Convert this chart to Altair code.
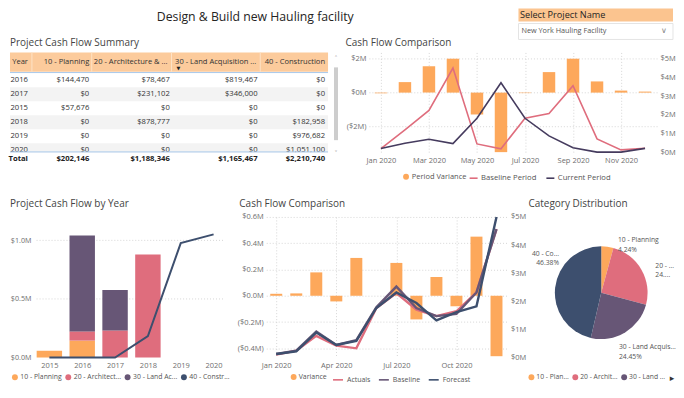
import json
import altair as alt
import pandas as pd

FONT = "Open Sans"
ORANGE = "#FDA85B"
PINK = "#DF6D7D"
PURPLE = "#675676"
NAVY = "#3D4F6E"
DARK = "#453B5E"
PEACH = "#FCCB9C"
PEACH2 = "#FBC48F"
GRID = "#D6D6D6"
TXT = "#333333"
AXT = "#6E6E6E"
TITLE = "#444444"

# ---------------- data ----------------
years = ["2016", "2017", "2015", "2018", "2019", "2020"]
planning = [144470, 0, 57676, 0, 0, 0]
architecture = [78467, 231102, 0, 878777, 0, 0]
land = [819467, 346000, 0, 0, 0, 0]
construction = [0, 0, 0, 182958, 976682, 1051100]
categories = ["10 - Planning", "20 - Architecture & Engineering",
              "30 - Land Acquisition & Permits", "40 - Construction"]
cat_colors = [ORANGE, PINK, PURPLE, NAVY]
table_headers = ["Year", "10 - Planning", "20 - Architecture & ...",
                 "30 - Land Acquisition ...", "40 - Construction"]
bl_legend_labels = ["10 - Planning", "20 - Architect...", "30 - Land Ac...", "40 - Constr..."]
pie_legend_labels = ["10 - Plan...", "20 - Archit...", "30 - Land ..."]
pie_label_names = ["10 - Planning", "20 - ...", "30 - Land Acquis...", "40 - Co..."]

months = ["Jan 2020", "Feb 2020", "Mar 2020", "Apr 2020", "May 2020", "Jun 2020",
          "Jul 2020", "Aug 2020", "Sep 2020", "Oct 2020", "Nov 2020", "Dec 2020"]
# top-right comparison ($M)
period_variance = [-0.04, 0.62, 1.56, 2.0, -1.29, -3.51, -0.03, 1.21, 2.0, 0.66, 0.12, 0.06]
baseline_period = [0.19, 1.19, 2.23, 4.50, 0.44, 0.18, 1.81, 2.07, 3.55, 0.71, 0.12, 0.21]
current_period = [0.19, 0.48, 0.69, 0.46, 1.81, 3.71, 1.81, 0.87, 0.23, 0.0, 0.0, 0.20]
# bottom comparison ($M)
variance = [0.015, 0.018, 0.178, -0.043, 0.288, 0.0, 0.25, -0.18, 0.143, -0.08, 0.45, -0.46]
actuals = [-0.448, -0.418, -0.305, -0.38, -0.40, -0.093, 0.02, -0.105, -0.155, -0.118, 0.025, 0.508]
baseline = [-0.443, -0.418, -0.273, -0.375, -0.338, -0.088, 0.07, -0.093, -0.155, -0.138, 0.025, 0.508]
forecast = [-0.443, -0.423, -0.28, -0.375, -0.343, -0.093, 0.025, -0.055, -0.188, -0.125, -0.08, 0.60]

series_cols = [planning, architecture, land, construction]
totals = [sum(s) for s in series_cols]

# ---------------- helpers ----------------
ONE = pd.DataFrame({"k": [0]})


def money(v):
    return "${:,.0f}".format(v)


def txt(t, x, y, size, color, align="left", weight="normal", font=FONT):
    return alt.Chart(pd.DataFrame({"t": [t]})).mark_text(
        align=align, baseline="middle", fontSize=size, color=color, font=font,
        fontWeight=weight).encode(x=alt.value(x), y=alt.value(y), text="t:N")


def box(x, x2, y, y2, fill, stroke=None):
    kw = {"fill": fill}
    if stroke:
        kw.update(stroke=stroke, strokeWidth=1)
    else:
        kw.update(strokeWidth=0)
    return alt.Chart(ONE).mark_rect(**kw).encode(
        x=alt.value(x), x2=alt.value(x2), y=alt.value(y), y2=alt.value(y2))


def hrule(x, x2, y, color, w=1):
    return alt.Chart(ONE).mark_rule(color=color, strokeWidth=w).encode(
        x=alt.value(x), x2=alt.value(x2), y=alt.value(y))


def vrule(x, y, y2, color, w=1):
    return alt.Chart(ONE).mark_rule(color=color, strokeWidth=w).encode(
        x=alt.value(x), y=alt.value(y), y2=alt.value(y2))


def legend(x, y, stype, size, labels=None, values=None, offset=2, pad=6, fs=7.2):
    kw = dict(orient="none", legendX=x, legendY=y, direction="horizontal", title=None,
              symbolType=stype, symbolSize=size, labelFont=FONT, labelFontSize=fs,
              labelColor="#555555", labelOffset=offset, columnPadding=pad, padding=0,
              symbolStrokeWidth=1.6 if stype == "stroke" else 0, labelLimit=200)
    if labels is not None:
        kw["labelExpr"] = json.dumps(labels) + "[datum.label]"
    if values is not None:
        kw["values"] = values
    return alt.Legend(**kw)


month_expr = json.dumps(months) + "[datum.value]"
neg_fmt = ("datum.value < 0 ? '($' + format(-datum.value, '{f}') + 'M)' : "
           "'$' + format(datum.value, '{f}') + 'M'")

# ---------------- table panel ----------------
rows = []
for i, yr in enumerate(years):
    rows.append({"year": yr, "col": "Year", "text": yr, "odd": i % 2})
    for h, s in zip(table_headers[1:], series_cols):
        rows.append({"year": yr, "col": h, "text": money(s[i]), "odd": i % 2})
tbl = pd.DataFrame(rows)
row_scale = alt.Scale(domain=years, range=[21, 105], paddingInner=0, paddingOuter=0)
T_EDGES = [18, 79.5, 160.3, 248.3, 316]
H_EDGES = [18, 79.5, 158, 247, 316]

t_layers = [
    alt.Chart(tbl[(tbl.odd == 1) & (tbl.col == "Year")]).mark_rect(color="#F3F3F3").encode(
        y=alt.Y("year:N", scale=row_scale, axis=None), x=alt.value(0), x2=alt.value(319))
]
for col, edge in zip(table_headers, T_EDGES):
    t_layers.append(alt.Chart(tbl[tbl.col == col]).mark_text(
        align="right", baseline="middle", fontSize=7.7, font=FONT, color=TXT).encode(
        x=alt.value(edge), y=alt.Y("year:N", scale=row_scale, axis=None), text="text:N"))
t_layers.append(box(0, 319, 0, 19.5, PEACH))
for xv in [22, 82, 162, 251]:
    t_layers.append(vrule(xv, 0, 19.5, "#FDE2C6"))
for h, edge in zip(table_headers, H_EDGES):
    t_layers.append(txt(h, edge, 9.5, 7.6, TXT, align="right"))
t_layers.append(txt("▼", 169, 15.5, 5, "#222222", align="center", font="DejaVu Sans"))
t_layers.append(hrule(0, 319, 20.2, "#A8C8EA"))
t_layers.append(box(0, 329, 100, 113, "#FFFFFF"))
t_layers.append(hrule(0, 319, 99.8, "#A8C8EA"))
t_layers.append(txt("Total", 18, 107, 7.7, "#222222", align="right", weight="bold"))
for tv, edge in zip(totals, T_EDGES[1:]):
    t_layers.append(txt(money(tv), edge, 107, 7.7, "#222222", align="right", weight="bold"))
t_layers.append(box(325, 329, 15, 88, "#CDCDCD"))
t_layers.append(txt("˄", 327, 6, 6, "#999999", align="center", font="DejaVu Sans"))
t_layers.append(txt("˅", 327, 101, 6, "#999999", align="center", font="DejaVu Sans"))
t_layers.append(txt("Project Cash Flow Summary", 0, -9, 10, TITLE))
t_layers.append(txt("Design & Build new Hauling facility", 246, -36, 12.3, "#252423", align="center"))
table_panel = alt.layer(*t_layers).properties(width=329, height=113)

# ---------------- top-right comparison ----------------
tr_bars_df = pd.DataFrame({"m": list(range(12)), "v": period_variance, "series": "Period Variance"})
tr_lines_df = pd.DataFrame({"m": list(range(12)) * 2, "v": baseline_period + current_period,
                            "series": ["Baseline Period"] * 12 + ["Current Period"] * 12})
x_tr = alt.X("m:Q", scale=alt.Scale(domain=[-0.5, 11.5], nice=False, zero=False, padding=0),
             axis=alt.Axis(values=[0, 2, 4, 6, 8, 10], labelExpr=month_expr, grid=True,
                           gridDash=[1, 2], gridColor=GRID, labelPadding=4, title=None,
                           labelFlush=False))
tr_bars = alt.Chart(tr_bars_df).mark_bar(size=12.5).encode(
    x=x_tr,
    y=alt.Y("v:Q", scale=alt.Scale(domain=[-3.51, 2.37], nice=False, zero=False),
            axis=alt.Axis(orient="left", values=[-2, 0, 2], labelExpr=neg_fmt.format(f="d"),
                          grid=True, gridDash=[1, 2], gridColor=GRID, labelPadding=3, title=None)),
    y2=alt.datum(0),
    color=alt.Color("series:N", scale=alt.Scale(domain=["Period Variance"], range=[ORANGE]),
                    legend=legend(33.5, 121, "circle", 35, fs=7.5)))
tr_lines = alt.Chart(tr_lines_df).mark_line(strokeWidth=1.6).encode(
    x=x_tr,
    y=alt.Y("v:Q", scale=alt.Scale(domain=[0, 5.335], nice=False, zero=False),
            axis=alt.Axis(orient="right", values=[0, 1, 2, 3, 4, 5],
                          labelExpr="'$' + datum.value + 'M'", grid=False, labelPadding=3,
                          title=None)),
    color=alt.Color("series:N", scale=alt.Scale(domain=["Baseline Period", "Current Period"],
                                                range=[PINK, DARK]),
                    legend=legend(100, 121, "stroke", 64, offset=2.5, pad=6, fs=7.7)))
tr_deco = [
    txt("Cash Flow Comparison", -23.5, -9, 10, TITLE),
    box(150, 305, -44, -31, PEACH2),
    txt("Select Project Name", 151.5, -37.5, 9.2, "#252423"),
    box(150, 305, -29, -13, "#FFFFFF", stroke="#E4E4E4"),
    txt("New York Hauling Facility", 153, -21, 7.3, "#555555"),
    txt("∨", 296, -21, 8, "#888888", align="center", font="DejaVu Sans"),
]
topright = alt.layer(tr_bars, tr_lines, *tr_deco).resolve_scale(
    y="independent", color="independent").properties(width=289, height=100)

# ---------------- bottom-left: by year ----------------
bl_rows = []
for ci, (cat, s) in enumerate(zip(categories[:3], series_cols[:3])):
    for yr, v in zip(years, s):
        bl_rows.append({"year": int(yr), "cat": cat, "v": v / 1e6, "order": ci})
bl_df = pd.DataFrame(bl_rows)
line_df = pd.DataFrame({"year": [int(y) for y in years], "v": [c / 1e6 for c in construction],
                        "cat": categories[3]})
x_bl = alt.X("year:Q", scale=alt.Scale(domain=[2013.801, 2020.540], nice=False, zero=False,
                                       padding=0),
             axis=alt.Axis(values=[2015, 2016, 2017, 2018, 2019, 2020],
                           labelExpr="'' + datum.value", grid=False, labelPadding=4, title=None))
y_bl_scale = alt.Scale(domain=[0, 1.2], nice=False, zero=False)
y_bl_axis = alt.Axis(values=[0, 0.5, 1.0], labelExpr="'$' + format(datum.value, '.1f') + 'M'",
                     grid=False, offset=-23, labelPadding=2, title=None, labelFontSize=7.2)
cat_scale = alt.Scale(domain=categories, range=cat_colors)
bl_grid = alt.Chart(pd.DataFrame({"g": [0.5, 1.0]})).mark_rule(
    color=GRID, strokeDash=[1, 2]).encode(
    y=alt.Y("g:Q", scale=y_bl_scale, axis=y_bl_axis), x=alt.datum(2014.61), x2=alt.datum(2020.3))
bl_bars = alt.Chart(bl_df).transform_stack(
    stack="v", groupby=["year"], sort=[alt.SortField("order", order="ascending")],
    as_=["v0", "v1"]).mark_bar(size=25.5).encode(
    x=x_bl,
    y=alt.Y("v0:Q", scale=y_bl_scale, axis=y_bl_axis),
    y2="v1:Q",
    color=alt.Color("cat:N", scale=cat_scale,
                    legend=legend(1.5, 157, "circle", 35,
                                  labels=dict(zip(categories, bl_legend_labels)), offset=2,
                                  pad=2.5, fs=6.9)))
bl_line = alt.Chart(line_df).mark_line(strokeWidth=2, color=NAVY).encode(
    x=x_bl, y=alt.Y("v:Q", scale=y_bl_scale, axis=y_bl_axis))
bl_deco = [txt("Project Cash Flow by Year", 0, -13, 10, TITLE)]
bottomleft = alt.layer(bl_grid, bl_bars, bl_line, *bl_deco).properties(width=222, height=141)

# ---------------- bottom-middle comparison ----------------
mid_bars_df = pd.DataFrame({"m": list(range(12)), "v": variance, "series": "Variance"})
mid_lines_df = pd.DataFrame({"m": list(range(12)) * 3, "v": actuals + baseline + forecast,
                             "series": ["Actuals"] * 12 + ["Baseline"] * 12 + ["Forecast"] * 12})
x_mid = alt.X("m:Q", scale=alt.Scale(domain=[-0.5, 11.5], nice=False, zero=False, padding=0),
              axis=alt.Axis(values=[0, 3, 6, 9], labelExpr=month_expr, grid=True,
                            gridDash=[1, 2], gridColor=GRID, labelPadding=4, title=None,
                            labelFlush=False))
y_mid_scale = alt.Scale(domain=[-0.47, 0.6], nice=False, zero=False)
mid_bars = alt.Chart(mid_bars_df).mark_bar(size=12).encode(
    x=x_mid,
    y=alt.Y("v:Q", scale=y_mid_scale,
            axis=alt.Axis(orient="left", values=[-0.4, -0.2, 0, 0.2, 0.4, 0.6],
                          labelExpr=neg_fmt.format(f=".1f"), grid=True, gridDash=[1, 2],
                          gridColor=GRID, labelPadding=3, title=None)),
    y2=alt.datum(0),
    color=alt.Color("series:N", scale=alt.Scale(domain=["Variance"], range=[ORANGE]),
                    legend=legend(24, 157, "circle", 35, offset=1.5, fs=7.0)))
mid_lines = alt.Chart(mid_lines_df).mark_line(strokeWidth=2.4).encode(
    x=x_mid,
    y=alt.Y("v:Q", scale=y_mid_scale, axis=None),
    color=alt.Color("series:N", scale=alt.Scale(domain=["Actuals", "Baseline", "Forecast"],
                                                range=[PINK, PURPLE, NAVY]),
                    legend=legend(66, 157, "stroke", 100, offset=3, pad=4, fs=7.0)))
mid_right = alt.Chart(pd.DataFrame({"v": [0, 5]})).mark_point(opacity=0).encode(
    x=alt.value(0),
    y=alt.Y("v:Q", scale=alt.Scale(domain=[0, 5.0], nice=False, zero=False),
            axis=alt.Axis(orient="right", values=[0, 1, 2, 3, 4, 5],
                          labelExpr="'$' + datum.value + 'M'", grid=False, labelPadding=4,
                          title=None)))
mid_deco = [txt("Cash Flow Comparison", -27, -13, 10, TITLE)]
middle = alt.layer(mid_bars, mid_lines, mid_right, *mid_deco).resolve_scale(
    y="independent", color="independent").properties(width=241, height=141)

# ---------------- pie ----------------
grand = float(sum(totals))
cum = 0.0
pie_rows = []
for i, (cat, tv) in enumerate(zip(categories, totals)):
    mid = (cum + tv / 2) / grand
    cum += tv
    pct = "{:.2f}%".format(tv / grand * 100)
    if i == 1:  # shown truncated in the original visual
        pct = pct[:2] + "...."
    pie_rows.append({"cat": cat, "v": tv, "order": i, "mid": mid,
                     "label": pie_label_names[i] + "\n" + pct})
pie_df = pd.DataFrame(pie_rows)
pie_arc = alt.Chart(pie_df).mark_arc(outerRadius=46.5).encode(
    theta=alt.Theta("v:Q", stack=True),
    order=alt.Order("order:Q"),
    color=alt.Color("cat:N", scale=cat_scale,
                    legend=legend(1.6, 157, "circle", 35, values=categories[:3],
                                  labels=dict(zip(categories[:3], pie_legend_labels)),
                                  offset=1.5, pad=3, fs=6.8)))
label_place = [("left", 9.5, 2), ("left", 6.6, 0.4), ("left", -10.5, 7.4), ("right", 12.3, -32.8)]
pie_labels = []
for i, (al, dx, dy) in enumerate(label_place):
    pie_labels.append(alt.Chart(pie_df.iloc[[i]]).mark_text(
        radius=55, align=al, baseline="middle", dx=dx, dy=dy, fontSize=6.8, font=FONT,
        color="#555555", lineBreak="\n", lineHeight=9.5).encode(
        theta=alt.Theta("mid:Q", scale=alt.Scale(domain=[0, 1], range=[0, 6.283185]), stack=False),
        text="label:N"))
pie_deco = [txt("Category Distribution", 2, -13, 10, TITLE),
            txt("▸", 146, 162, 9, "#333333", align="center", font="DejaVu Sans")]
pie = alt.layer(pie_arc, *pie_labels, *pie_deco).resolve_scale(
    theta="independent").properties(width=150, height=152)

# ---------------- layout ----------------
# nested concat groups count as zero-height under "flush" bounds, so the
# vertical spacing is the full distance between the two rows' plot tops
row1 = alt.hconcat(table_panel, topright, spacing=31, bounds="flush").resolve_scale(
    color="independent")
row2b = alt.hconcat(middle, pie, spacing=20, bounds="flush").resolve_scale(color="independent")
row2 = alt.hconcat(bottomleft, row2b, spacing=35, bounds="flush").resolve_scale(
    color="independent")
chart = alt.vconcat(row1, row2, spacing=165, bounds="flush").resolve_scale(
    color="independent").properties(padding=0).configure_view(stroke=None).configure_axis(
    labelFont=FONT, labelFontSize=7.5, labelColor=AXT, domain=False, ticks=False)

chart.save("out.html", embed_options={"renderer": "svg", "actions": False})
